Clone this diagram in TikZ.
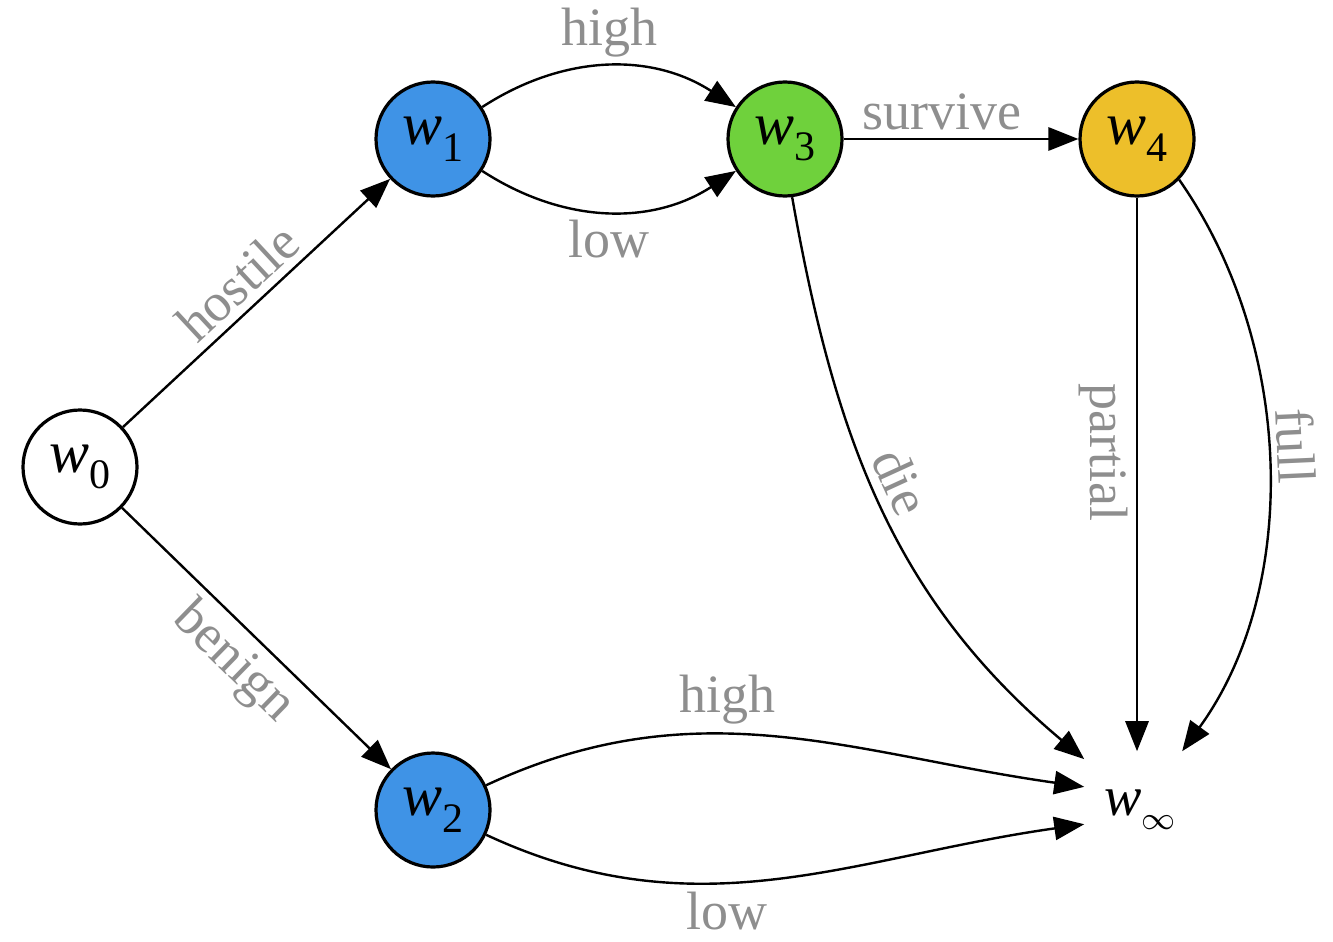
\documentclass[tikz,border=0pt]{standalone}
\usepackage{fontspec}
\setmainfont{Liberation Serif}
\usetikzlibrary{arrows.meta}
\definecolor{nodeblue}{HTML}{3F93E6}
\definecolor{nodegreen}{HTML}{6FD13C}
\definecolor{nodegold}{HTML}{EDBF2A}
\definecolor{labgray}{HTML}{8E8E8E}
\tikzset{
  state/.style={circle, draw=black, line width=0.8pt, minimum size=28.5pt, inner sep=0pt,
    font=\fontsize{15pt}{18pt}\selectfont},
  conn/.style={line width=0.6pt, -{Triangle[length=7.5pt,width=5.8pt]}},
  lab/.style={text=labgray, font=\fontsize{13.5pt}{16pt}\selectfont, inner sep=2pt},
}
\newcommand{\wsub}[1]{\textit{w}\raisebox{-0.28em}{\fontsize{10.5pt}{12pt}\selectfont #1}}
\begin{document}
\begin{tikzpicture}[x=0.25pt, y=-0.25pt]
\useasboundingbox (0,0) rectangle (1333,941);
\node[state, fill=white] (w0) at (80,467) {\wsub{0}};
\node[state, fill=nodeblue] (w1) at (433,139) {\wsub{1}};
\node[state, fill=nodeblue] (w2) at (433,810) {\wsub{2}};
\node[state, fill=nodegreen] (w3) at (785,139) {\wsub{3}};
\node[state, fill=nodegold] (w4) at (1137,139) {\wsub{4}};
\node[rectangle, minimum width=26pt, minimum height=26.5pt, inner sep=0pt,
  font=\fontsize{15pt}{18pt}\selectfont] (winf) at (1137,805) {};
\node[font=\fontsize{14pt}{18pt}\selectfont, inner sep=0pt] (winflab) at (1140,810)
  {\textit{w}\raisebox{-0.25em}{\fontsize{8pt}{10pt}\selectfont$\infty$}};

\draw[conn] (w0) -- node[lab, midway, above, sloped] {hostile} (w1);
\draw[conn] (w0) -- node[lab, midway, below, sloped] {benign} (w2);
\draw[conn] (w1) to[bend left=33] node[lab, midway, above] {high} (w3);
\draw[conn] (w1) to[bend right=33] node[lab, midway, below] {low} (w3);
\draw[conn] (w3) -- node[lab, pos=0.42, above] {survive} (w4);
\draw[conn] (w3.-83) to[out=-80, in=140] node[lab, pos=0.47, above, sloped] {die} (winf.139);
\draw[conn] (w4) -- node[lab, pos=0.46, below, sloped] {partial} (winf.north);
\draw[conn] (w4.-44) to[out=-55, in=54, looseness=0.9] node[lab, pos=0.47, above, sloped] {full} (winf.50);
\draw[conn] (w2.25) to[out=25, in=172] node[lab, pos=0.41, above] {high} (winf.161);
\draw[conn] (w2.-25) to[out=-25, in=-172] node[lab, pos=0.41, below] {low} (winf.-160);
\end{tikzpicture}
\end{document}
